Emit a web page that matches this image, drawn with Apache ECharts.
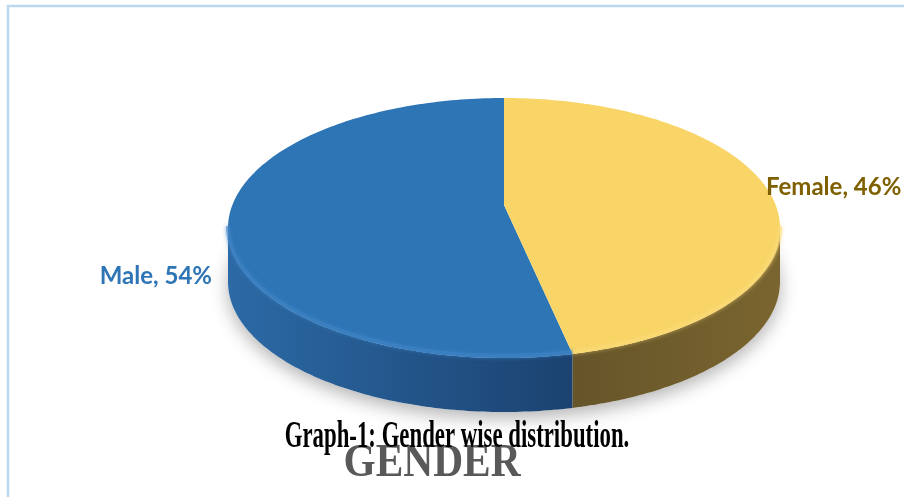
<!DOCTYPE html>
<html><head><meta charset="utf-8">
<script src="https://cdn.jsdelivr.net/npm/echarts@6/dist/echarts.min.js"></script>
<style>html,body{margin:0;padding:0;background:#fff}#c{width:904px;height:497px}</style>
</head><body><div id="c"></div>
<script>
// ---- data ----
const categories = ['Male', 'Female'];
const values = [54, 46];
const captionText = 'Graph-1: Gender wise distribution.';
const titleText = 'GENDER';

// ---- style ----
const topColors = ['#2E75B6', '#F9D567'];
const rimColors = ['#3F84C4', '#FADB78'];
const sideColors = [['#2C6AA6', '#1B4270'], ['#66552A', '#7A652F']];
const labelColors = ['#2E75B6', '#7F6000'];

const chart = echarts.init(document.getElementById('c'), null, {renderer: 'canvas'});
const total = values.reduce((a, b) => a + b, 0);
const G = {cx: 504, cy: 228, vx: 504, vy: 205, rx: 276, ry: 130, depth: 54};

function pt(deg, dy) {
  const r = deg * Math.PI / 180;
  return [G.cx + G.rx * Math.sin(r), G.cy - G.ry * Math.cos(r) + (dy || 0)];
}
function arc(a, b, dy) {
  const pts = [];
  const n = Math.max(2, Math.ceil(Math.abs(b - a) / 1));
  for (let i = 0; i <= n; i++) pts.push(pt(a + (b - a) * i / n, dy));
  return pts;
}
function sliceAngles(i) {
  let a = -values[0] / total * 360;
  for (let j = 0; j < i; j++) a += values[j] / total * 360;
  return [a, a + values[i] / total * 360];
}

function renderItem(params, api) {
  const i = params.dataIndex;
  const [a, b] = sliceAngles(i);
  const children = [];
  if (i === 0) {
    children.push({
      type: 'polygon', z2: 0,
      shape: {points: arc(0, 360, G.depth)},
      style: {fill: '#ffffff', shadowBlur: 18, shadowColor: 'rgba(0,0,0,0.3)', shadowOffsetY: 6}
    });
  }
  let na = ((a % 360) + 360) % 360, nb = na + (b - a);
  const sa = Math.max(na, 90), sb = Math.min(nb, 270);
  if (sb > sa) {
    const top = arc(sa, sb, 0);
    const bot = arc(sb, sa, G.depth);
    const x0 = Math.min(...top.map(p => p[0])), x1 = Math.max(...top.map(p => p[0]));
    children.push({
      type: 'polygon', z2: 2,
      shape: {points: top.concat(bot)},
      style: {
        fill: new echarts.graphic.LinearGradient(x0, 0, x1, 0, [
          {offset: 0, color: sideColors[i][0]}, {offset: 1, color: sideColors[i][1]}
        ], true)
      }
    });
    children.push({
      type: 'polyline', z2: 5,
      shape: {points: arc(sa, sb, -2)},
      style: {stroke: rimColors[i], lineWidth: 4, fill: null, opacity: 0.6, shadowBlur: 4, shadowColor: rimColors[i]}
    });
  }
  children.push({
    type: 'polygon', z2: 4,
    shape: {points: [[G.vx, G.vy]].concat(arc(a, b, 0))},
    style: {fill: topColors[i]}
  });
  const txt = categories[i] + ', ' + api.value(0) + '%';
  const isLeft = i === 0;
  children.push({
    type: 'text', z2: 10,
    style: {
      text: txt,
      x: isLeft ? 212 : 766,
      y: isLeft ? 276 : 187,
      fill: labelColors[i],
      font: 'bold 24px Lato, "Noto Sans", sans-serif',
      align: isLeft ? 'right' : 'left', textAlign: isLeft ? 'right' : 'left',
      verticalAlign: 'middle', textVerticalAlign: 'middle'
    }
  });
  return {type: 'group', children};
}

chart.setOption({
  animation: false,
  backgroundColor: '#ffffff',
  graphic: [
    {type: 'rect', shape: {x: 8, y: 6, width: 1000, height: 1000},
     style: {fill: null, stroke: '#BDD7EE', lineWidth: 2.5}, z: 0},
    {type: 'text', x: 432, y: 464, scaleX: 0.9, z: 10,
     style: {text: titleText, x: 0, y: 0, fill: '#595959',
       font: 'bold 46px "Liberation Serif", "DejaVu Serif", serif',
       align: 'center', textAlign: 'center', verticalAlign: 'middle', textVerticalAlign: 'middle'}},
    {type: 'text', x: 457, y: 437, scaleX: 0.6, z: 11,
     style: {text: captionText, x: 0, y: 0, fill: '#000000',
       font: 'bold 38px "Liberation Serif", "DejaVu Serif", serif',
       align: 'center', textAlign: 'center', verticalAlign: 'middle', textVerticalAlign: 'middle'}}
  ],
  series: [{
    type: 'custom',
    coordinateSystem: 'none',
    renderItem: renderItem,
    data: values.map((v, i) => ({name: categories[i], value: v}))
  }]
});
</script></body></html>
